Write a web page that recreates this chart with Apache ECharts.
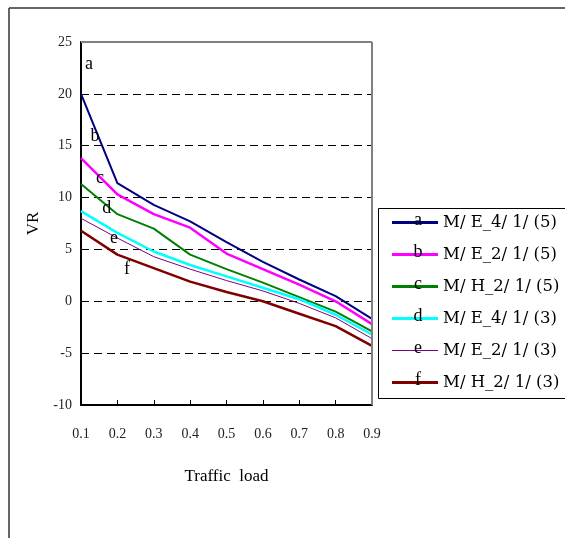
<!DOCTYPE html>
<html>
<head>
<meta charset="utf-8">
<script src="https://cdn.jsdelivr.net/npm/echarts@6/dist/echarts.min.js"></script>
<style>html,body{margin:0;padding:0;background:#fff}#c{width:565px;height:538px}</style>
</head>
<body>
<div id="c"></div>
<script>
var loads = [0.1, 0.2, 0.3, 0.4, 0.5, 0.6, 0.7, 0.8, 0.9];
var seriesNames = ['M/ E_4/ 1/ (5)', 'M/ E_2/ 1/ (5)', 'M/ H_2/ 1/ (5)', 'M/ E_4/ 1/ (3)', 'M/ E_2/ 1/ (3)', 'M/ H_2/ 1/ (3)'];
var seriesLetters = ['a', 'b', 'c', 'd', 'e', 'f'];
var vrA = [20.0, 11.4, 9.3, 7.7, 5.7, 3.8, 2.1, 0.5, -1.7];
var vrB = [13.8, 10.3, 8.4, 7.1, 4.6, 3.1, 1.6, 0.0, -2.2];
var vrC = [11.3, 8.4, 7.0, 4.5, 3.1, 1.8, 0.4, -1.0, -2.9];
var vrD = [8.7, 6.6, 4.8, 3.5, 2.4, 1.3, 0.2, -1.3, -3.2];
var vrE = [8.0, 6.1, 4.3, 3.1, 2.0, 1.0, -0.2, -1.6, -3.6];
var vrF = [6.8, 4.5, 3.2, 1.9, 0.9, 0.0, -1.2, -2.4, -4.3];
var yTicks = [-10, -5, 0, 5, 10, 15, 20, 25];
// annotation letter positions in data coordinates [load, VR]
var letterPos = [[0.122, 22.9], [0.1385, 15.9], [0.152, 11.9], [0.171, 9.0], [0.191, 6.1], [0.2265, 3.1]];

var allValues = [vrA, vrB, vrC, vrD, vrE, vrF];
var colors = ['#000080', '#FF00FF', '#008000', '#00FFFF', '#800080', '#800000'];
var widths = [2, 2.5, 2, 2.5, 1, 2.5];
var legendWidths = [3, 3, 3, 3, 1, 3];
var FONT = 'Liberation Serif';
var LFONT = 'DejaVu Serif';

function iconPath(w) {
  var a = (3 - w) / 2, b = (3 + w) / 2;
  return 'path://M0,0 M0,' + a + ' H46 V' + b + ' H0 Z M46,3';
}

var chart = echarts.init(document.getElementById('c'));
var series = allValues.map(function (vals, i) {
  return {
    name: seriesNames[i],
    type: 'line',
    data: vals.map(function (v, j) { return [loads[j], v]; }),
    symbol: 'none',
    lineStyle: { color: colors[i], width: widths[i] },
    itemStyle: { color: colors[i] },
    animation: false
  };
});

var option = {
  animation: false,
  grid: { left: 81, top: 42, width: 291, height: 363, show: false },
  xAxis: {
    type: 'value', min: 0.1, max: 0.9, interval: 0.1,
    name: 'Traffic  load', nameLocation: 'middle', nameGap: 63,
    nameTextStyle: { fontFamily: FONT, fontSize: 17, color: '#000' },
    axisLine: { onZero: false, lineStyle: { color: '#000', width: 2 } },
    axisTick: { inside: true, length: 5, lineStyle: { color: '#000', width: 1 } },
    axisLabel: { margin: 22, fontFamily: FONT, fontSize: 14, color: '#222',
      formatter: function (v) { return (Math.round(v * 10) / 10).toFixed(1); } },
    splitLine: { show: false }
  },
  yAxis: {
    type: 'value', min: yTicks[0], max: yTicks[yTicks.length - 1], interval: 5,
    name: 'VR', nameLocation: 'middle', nameGap: 32,
    nameTextStyle: { fontFamily: FONT, fontSize: 17, color: '#000' },
    axisLine: { show: true, onZero: false, lineStyle: { color: '#000', width: 2 } },
    axisTick: { show: false },
    axisLabel: { margin: 9, fontFamily: FONT, fontSize: 14, color: '#222' },
    splitLine: { show: true, lineStyle: { color: '#000', width: 1, type: [8, 5] } }
  },
  legend: {
    orient: 'vertical', left: 392, top: 207, padding: 0,
    itemWidth: 46, itemHeight: 3, itemGap: 1,
    data: seriesNames.map(function (n, i) {
      return { name: n, icon: iconPath(legendWidths[i]), itemStyle: { color: colors[i] } };
    }),
    textStyle: { fontFamily: LFONT, fontSize: 16.5, color: '#000', lineHeight: 17, padding: [14, 0, 0, 0] }
  },
  series: series
};
chart.setOption(option);

// borders, frame, legend box, letters
var g = [];
var tl = chart.convertToPixel({ gridIndex: 0 }, [0.1, 25]);
var br = chart.convertToPixel({ gridIndex: 0 }, [0.9, -10]);
g.push({ type: 'line', z: 100, shape: { x1: tl[0], y1: tl[1], x2: br[0], y2: tl[1] }, style: { stroke: '#808080', lineWidth: 2 } });
g.push({ type: 'line', z: 100, shape: { x1: br[0], y1: tl[1], x2: br[0], y2: br[1] }, style: { stroke: '#808080', lineWidth: 2 } });
g.push({ type: 'line', z: 100, shape: { x1: 9, y1: 8, x2: 565, y2: 8 }, style: { stroke: '#333', lineWidth: 1.5 } });
g.push({ type: 'line', z: 100, shape: { x1: 9, y1: 8, x2: 9, y2: 538 }, style: { stroke: '#333', lineWidth: 1.5 } });
g.push({ type: 'rect', z: 90, shape: { x: 378.5, y: 208.5, width: 200, height: 190 }, style: { fill: null, stroke: '#000', lineWidth: 1 } });
letterPos.forEach(function (p, i) {
  var px = chart.convertToPixel({ gridIndex: 0 }, p);
  g.push({ type: 'text', z: 100, x: px[0], y: px[1], style: { text: seriesLetters[i], fontFamily: FONT, fontSize: 18, fill: '#000', align: 'center', verticalAlign: 'middle' } });
});
seriesLetters.forEach(function (l, i) {
  g.push({ type: 'text', z: 100, x: 418, y: 222 + i * 32 + 7.5, style: { text: l, fontFamily: FONT, fontSize: 18, fill: '#000', align: 'center', verticalAlign: 'bottom' } });
});
chart.setOption({ graphic: g });
</script>
</body>
</html>
